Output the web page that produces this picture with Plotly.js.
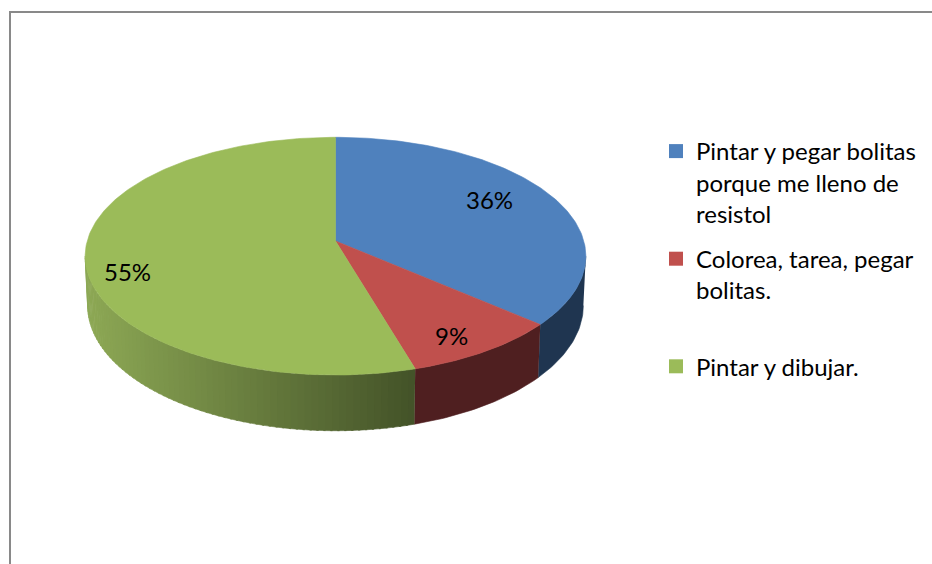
<!DOCTYPE html>
<html>
<head>
<meta charset="utf-8">
<script src="https://cdn.plot.ly/plotly-3.0.1.min.js"></script>
<style>html,body{margin:0;padding:0;background:#fff;}#chart{width:932px;height:564px;}</style>
</head>
<body>
<div id="chart"></div>
<script>
// ---- data ----
const categories = ['Pintar y pegar bolitas porque me lleno de resistol', 'Colorea, tarea, pegar bolitas.', 'Pintar y dibujar.'];
const legendLabels = ['Pintar y pegar bolitas<br>porque me lleno de<br>resistol', 'Colorea, tarea, pegar<br>bolitas.<br> ', 'Pintar y dibujar.'];
const values = [4, 1, 6];
const topColors = ['#4F81BD', '#C0504D', '#9BBB59'];
const sideColors = ['#1F3550', '#4F1F20', null];

// ---- projection of the tilted disc (perspective) ----
const CX = 335.5, A = 248.3, E = 241, D = 86.2, C = -0.1275, H = 48.6;
function rim(thetaDeg, bottom, r) {
  r = (r === undefined) ? 1 : r;
  const t = thetaDeg * Math.PI / 180;
  const u = r * Math.sin(t), w = -r * Math.cos(t);
  const den = 1 + C * w;
  let x = CX + A * u / den, y = (D * w + E) / den;
  if (bottom) { x = CX + (x - CX) * 0.99; y += H / den; }
  return [x, y];
}
const silL = Math.acos(C) * 180 / Math.PI, silR = 360 - silL;

const total = values.reduce((a, b) => a + b, 0);
const starts = [], ends = [];
let acc = 0;
values.forEach(v => { starts.push(acc / total * 360); acc += v; ends.push(acc / total * 360); });

function arc(a, b, bottom) {
  const pts = [];
  const n = Math.max(2, Math.ceil(Math.abs(b - a)));
  for (let i = 0; i <= n; i++) pts.push(rim(a + (b - a) * i / n, bottom));
  return pts;
}
function poly(pts, color) {
  return {type: 'scatter', mode: 'lines', x: pts.map(p => p[0]), y: pts.map(p => p[1]),
    fill: 'toself', fillcolor: color, line: {color: color, width: 0.6},
    hoverinfo: 'skip', showlegend: false};
}
function lerpColor(c1, c2, t) {
  const a = [1,3,5].map(i => parseInt(c1.substr(i, 2), 16));
  const b = [1,3,5].map(i => parseInt(c2.substr(i, 2), 16));
  return 'rgb(' + a.map((v, i) => Math.round(v + (b[i] - v) * t)).join(',') + ')';
}

const traces = [];
// side walls
values.forEach((v, i) => {
  const a = Math.max(starts[i], silL), b = Math.min(ends[i], silR);
  if (b <= a) return;
  if (sideColors[i]) {
    const pts = arc(a, b, false).concat(arc(b, a, true));
    traces.push(poly(pts, sideColors[i]));
  } else {
    const N = 70;
    for (let k = 0; k < N; k++) {
      const s = a + (b - a) * k / N, e = Math.min(b, a + (b - a) * (k + 1) / N + 0.4);
      const xm = rim((s + e) / 2, false)[0];
      const tt = Math.min(1, Math.max(0, (xm - 90) / (415 - 90)));
      const col = lerpColor('#8CA754', '#435228', tt);
      traces.push(poly(arc(s, e, false).concat(arc(e, s, true)), col));
    }
  }
});
// top faces
values.forEach((v, i) => {
  const vert = rim(0, false, 0);
  const pts = [vert].concat(arc(starts[i], ends[i], false)).concat([vert]);
  traces.push(poly(pts, topColors[i]));
});
// legend entries
values.forEach((v, i) => {
  traces.push({type: 'scatter', mode: 'markers', x: [null], y: [null], name: legendLabels[i],
    legendgroup: 'g' + i, marker: {symbol: 'square', size: 14, color: topColors[i]}, hoverinfo: 'skip'});
});

// data labels
const labelR = 0.8;
const labelShift = [[-19, -4], [-1, 8], [-8, 16.5]];
const annotations = values.map((v, i) => {
  const p = rim((starts[i] + ends[i]) / 2, false, labelR);
  return {x: p[0], y: p[1], xref: 'x', yref: 'y', text: Math.round(v / total * 100) + '%',
    showarrow: false, xshift: labelShift[i][0], yshift: -labelShift[i][1],
    font: {family: 'Lato, sans-serif', size: 24, color: '#000'}};
});

const layout = {
  width: 932, height: 564, margin: {l: 0, r: 0, t: 0, b: 0},
  paper_bgcolor: '#fff', plot_bgcolor: '#fff',
  xaxis: {range: [0, 932], visible: false, fixedrange: true},
  yaxis: {range: [564, 0], visible: false, fixedrange: true},
  showlegend: true,
  legend: {x: 656 / 932, y: 1 - 129 / 564, xanchor: 'left', yanchor: 'top', valign: 'top',
    tracegroupgap: 11, bgcolor: 'rgba(0,0,0,0)',
    font: {family: 'Lato, sans-serif', size: 24, color: '#000'}},
  annotations: annotations,
  shapes: [{type: 'rect', xref: 'x', yref: 'y', x0: 10, y0: 12, x1: 945, y1: 580,
    line: {color: '#898989', width: 2}, fillcolor: 'rgba(0,0,0,0)', layer: 'below'}]
};
Plotly.newPlot('chart', traces, layout, {staticPlot: true});
</script>
</body>
</html>
